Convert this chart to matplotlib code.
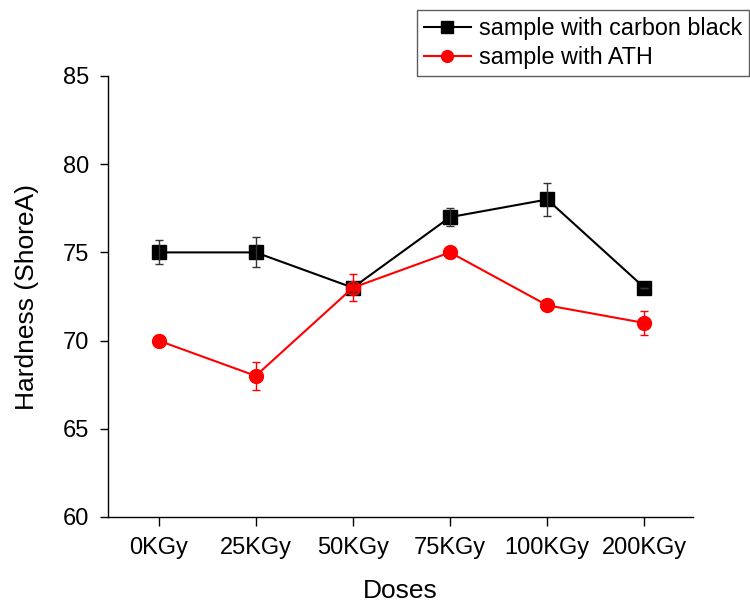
import matplotlib
matplotlib.use("Agg")
import matplotlib.pyplot as plt
import numpy as np

plt.rcParams['font.family'] = ['Liberation Sans', 'DejaVu Sans']

categories = ["0KGy", "25KGy", "50KGy", "75KGy", "100KGy", "200KGy"]
carbon_black = [75, 75, 73, 77, 78, 73]
carbon_black_err = [0.68, 0.85, 0.25, 0.5, 0.95, 0.0]
ath = [70, 68, 73, 75, 72, 71]
ath_err = [0.3, 0.8, 0.75, 0.3, 0.2, 0.66]

fig = plt.figure(figsize=(7.5, 6.03), dpi=100)
ax = fig.add_axes([108/750, 1-517/603, (693-108)/750, (517-76)/603])

x = np.arange(len(categories))

ax.plot(x, carbon_black, color='black', marker='s', markersize=9.4, linewidth=1.5,
        label='sample with carbon black', zorder=3)
ax.plot(x, ath, color='red', marker='o', markersize=10, linewidth=1.5,
        label='sample with ATH', zorder=4)
ax.errorbar(x, carbon_black, yerr=carbon_black_err, fmt='none', ecolor='#333333',
            elinewidth=1, capsize=3, capthick=1, zorder=5)
ax.errorbar(x, ath, yerr=ath_err, fmt='none', ecolor='red',
            elinewidth=1, capsize=3, capthick=1, zorder=5)

ax.set_xlim(-0.52, 5.5)
ax.set_ylim(60, 85)
ax.set_yticks([60, 65, 70, 75, 80, 85])
ax.set_xticks(x)
ax.set_xticklabels(categories)

for s in ['top', 'right']:
    ax.spines[s].set_visible(False)
for s in ['left', 'bottom']:
    ax.spines[s].set_linewidth(1.0)

ax.tick_params(axis='y', direction='out', length=5.5, width=1, labelsize=17, pad=8)
ax.tick_params(axis='x', direction='out', length=6.5, width=1, labelsize=17, pad=8)

ax.set_xlabel('Doses', fontsize=19, labelpad=14)
ax.set_ylabel('Hardness (ShoreA)', fontsize=19, labelpad=17)

leg = fig.legend(loc='upper left', bbox_to_anchor=(417/750, 1-10/603),
                 fontsize=16.8, frameon=True, fancybox=False, handlelength=2.0,
                 handletextpad=0.35, labelspacing=0.25, borderpad=0.3,
                 borderaxespad=0, markerscale=0.85)
leg.get_frame().set_edgecolor('#333333')
leg.get_frame().set_linewidth(1.0)

fig.savefig('out.png', dpi=100)
